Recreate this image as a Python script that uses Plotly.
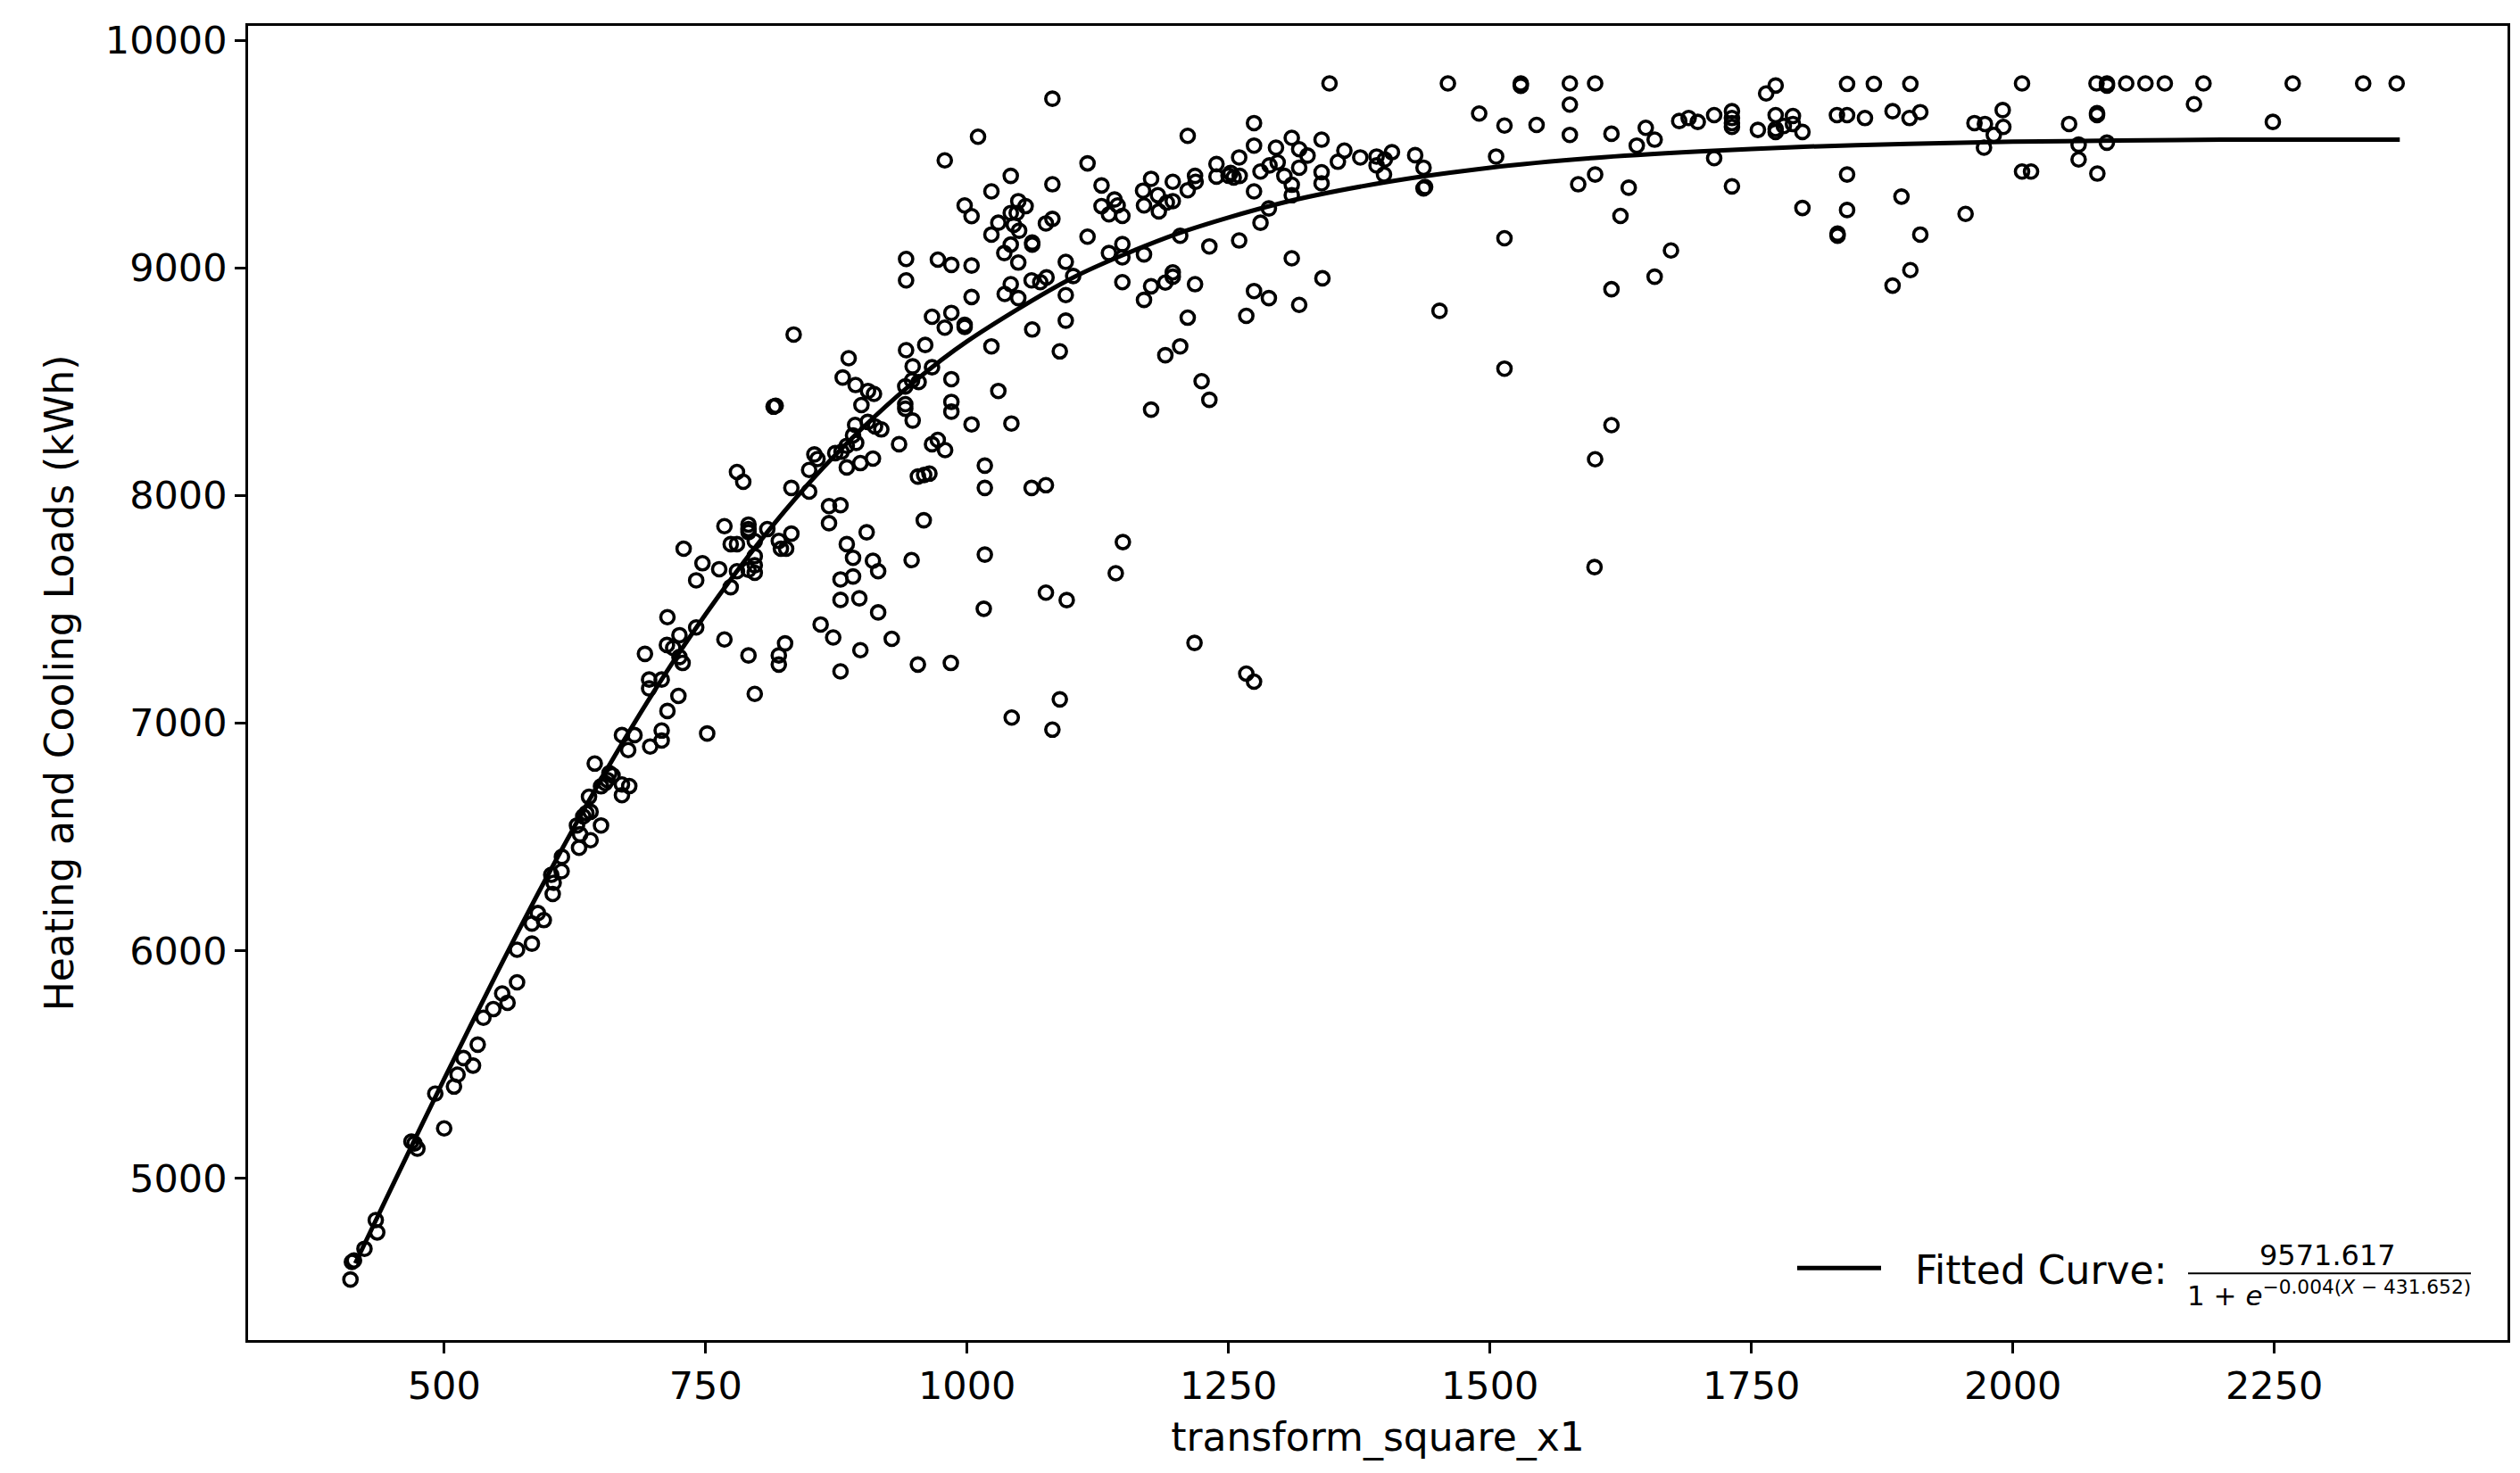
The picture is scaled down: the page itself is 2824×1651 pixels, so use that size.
import plotly.graph_objects as go

# ---------------- data ----------------
# lower-left segment
x_low = [410.4, 413.8, 411.8, 423.8, 436, 434.6, 468.7, 471.6, 474.4, 500, 491.5, 509.4, 512.8, 518.5,
         527.6, 532.1, 537.5, 547, 555.5, 560.6, 569.7, 569.7, 583.9, 583.9, 595.3, 589.6, 603.8, 604.7,
         612.3, 602.4]
y_low = [4555, 4639, 4632, 4690, 4762, 4816, 5161, 5153, 5130, 5219, 5372, 5403, 5455, 5528,
         5495, 5587, 5705, 5743, 5812, 5771, 5861, 6004, 6031, 6119, 6134, 6165, 6249, 6298,
         6349, 6333]

# middle-left segment
x_mid = [910, 898, 885, 857, 849, 780, 786, 832, 849, 953, 959, 964,
         868, 879, 868, 958.6, 768, 791, 791, 791, 809, 797, 774, 780, 729,
         820, 822, 832, 827, 797, 797, 797, 791, 747, 763, 780, 741, 774,
         885, 891, 904, 910, 915, 947, 879, 891, 879, 897, 915, 1016,
         713.5, 741, 725, 713, 719, 692, 725, 728, 768, 791, 826, 820, 820,
         860, 872, 898, 928, 879, 953, 984.5, 696, 696, 708, 724, 713.5, 797,
         708, 708, 697, 751.5, 670, 682, 676, 644, 658, 661, 654, 650, 656,
         670, 677, 670, 638.5, 633, 636, 640, 627, 630, 650, 640, 629, 612.6]
y_mid = [8162, 8142, 8123, 8160, 8112, 8103, 8060, 8033, 8017, 8083, 8090, 8096,
         7953, 7957, 7878, 7891, 7865, 7872, 7852, 7839, 7852, 7799, 7786, 7786, 7766,
         7800, 7766, 7832, 7766, 7733, 7693, 7660, 7673, 7702, 7676, 7667, 7627, 7597,
         7786, 7726, 7838, 7713, 7667, 7716, 7631, 7644, 7541, 7548, 7486, 7502,
         7465, 7420, 7386, 7343, 7330, 7304, 7290, 7264, 7367, 7297, 7350, 7297, 7257,
         7433, 7376, 7320, 7370, 7227, 7257, 7264, 7191, 7152, 7191, 7119, 7053, 7128,
         6967, 6923, 6897, 6954, 6947, 6947, 6881, 6822, 6780, 6770, 6736, 6722, 6750,
         6730, 6723, 6683, 6676, 6590, 6604, 6610, 6550, 6511, 6550, 6485, 6452, 6412]

# upper-middle segment
x_upmid = [1081.6, 1010.5, 978.7, 1041.8, 1115.2, 1081.6, 1128.6, 1023.3, 997.7, 1004.3,
           1049, 1056, 1047.5, 1041.8, 1141, 1128.6, 1135.7, 1148.5, 1144,
           1029.9, 1044.7, 1049.8, 1075.4, 1081.6, 1023.3, 1062.3, 1062.3, 1041.8, 1035.6, 1115.2,
           1148.5, 1135.7, 1148.5, 941.7, 941.7, 972.1, 985, 1004.3, 1049, 1094.4, 1101.5,
           1061.7, 1070, 1076, 1041.8, 1036, 1049, 1004.3, 1094.4, 1148.5,
           966.5, 985, 978.7, 997.7, 997.7, 1094.4, 1062.3, 1023.3, 1088.7, 834.2, 941.7, 960,
           886.8, 948, 966.5, 881.1, 893.4, 905.3, 911, 899, 940.9, 947.4, 953.7, 985, 1029.9,
           817, 815, 940.9, 940.9, 948, 985, 985, 1004.3, 1042.4,
           893, 905, 912, 918, 891, 894, 885, 935, 966.5, 972, 979, 854, 874, 880]
y_upmid = [9743, 9576, 9472, 9404, 9459, 9367, 9362, 9336, 9274, 9227,
           9293, 9271, 9241, 9241, 9300, 9271, 9235, 9228, 9274,
           9198, 9189, 9163, 9195, 9215, 9146, 9111, 9102, 9102, 9065, 9137,
           9104, 9065, 9046, 9039, 8945, 9036, 9013, 9010, 9023, 9026, 8964,
           8945, 8937, 8958, 8928, 8885, 8867, 8872, 8880, 8937,
           8785, 8802, 8737, 8750, 8740, 8768, 8729, 8655, 8633, 8707, 8638, 8661,
           8603, 8567, 8563, 8518, 8485, 8459, 8446, 8397, 8479, 8505, 8498, 8511, 8459,
           8394, 8390, 8401, 8381, 8329, 8411, 8368, 8312, 8316,
           8310, 8323, 8303, 8290, 8264, 8231, 8218, 8225, 8225, 8244, 8199, 8180, 8186, 8192]

# lower-middle outliers
x_lowmid = [1017, 1017, 1061.7, 1075.4, 1149, 1142.2, 1017, 1075.4, 1095.3, 1088.7, 1042.7, 1081.6,
            1176, 1217.5, 1267, 1274.4]
y_lowmid = [8131, 8033, 8033, 8045, 7795, 7658, 7740, 7573, 7540, 7104, 7024, 6971,
            8377, 7352, 7217, 7182]

# centre segment
x_centre = [1346.6, 1459.8, 1489.7, 1211, 1274.4, 1274.4, 1310.5, 1339, 1295.4, 1317.6, 1325.6, 1260.2,
            1238.5, 1238.5, 1252, 1255, 1260.7, 1250, 1280.6, 1289.2, 1297, 1317.6, 1303.4, 1310.5,
            1310.5, 1274.4, 1339, 1339, 1360.8, 1354.6, 1376, 1391.6, 1391.6, 1398.7, 1399.5, 1406.3,
            1428.5, 1436.5, 1436.5, 1438, 1176, 1168.3, 1169.2, 1182.5, 1183.4, 1191, 1196.7, 1196.7,
            1211, 1218, 1218.6, 1288.6, 1280.6, 1203.8, 1231.7, 1260.2, 1169.2, 1310.5,
            1196.7, 1196.7, 1189.6, 1176, 1169.2, 1218, 1274.4, 1288.6, 1317.6, 1339.8,
            1211, 1267, 1451.8, 1203.8, 1189.6, 1224.3, 1231.7]
y_centre = [9810, 9810, 9678, 9580, 9636, 9537, 9571, 9563, 9528, 9521, 9493, 9485,
            9456, 9401, 9417, 9397, 9404, 9405, 9423, 9450, 9463, 9440, 9404, 9365,
            9319, 9336, 9420, 9371, 9515, 9466, 9485, 9489, 9450, 9410, 9476, 9508,
            9495, 9440, 9349, 9355, 9391, 9339, 9274, 9319, 9248, 9287, 9293, 9378,
            9341, 9404, 9378, 9261, 9198, 9141, 9094, 9120, 9059, 9042,
            8980, 8961, 8935, 8919, 8859, 8928, 8898, 8867, 8837, 8954,
            8781, 8789, 8811, 8655, 8616, 8502, 8420]

# right segment
x_right = [1529.5, 1529.5, 1576.4, 1600.6, 1576.4, 1513.9, 1544.6, 1576.4, 1616.2, 1505.9, 1649,
           1657.5, 1640.4, 1681, 1690, 1698.7, 1714.4, 1731.4, 1731.4, 1731.4, 1731.4, 1714.4,
           1756.2, 1764.1, 1773.2, 1773.2, 1773.2, 1773.2, 1781, 1789.7, 1789.7, 1798.8,
           1841.5, 1867.1, 1902, 1831.8, 1841.5, 1858.6, 1885, 1901.2, 1911.5, 1841.5, 1893.5,
           1798.8, 1841.5, 1832.4, 1832.4, 1911.5, 1902, 1885, 1600.6, 1584.4, 1632.7, 1731.4,
           1624.8, 1513.9, 1673.1, 1657.5, 1616.2, 1513.9, 1616.2, 1600.6, 1600]
y_right = [9810, 9800, 9810, 9810, 9717, 9625, 9628, 9584, 9589, 9489, 9615,
           9563, 9537, 9645, 9658, 9641, 9671, 9688, 9658, 9636, 9619, 9482,
           9606, 9766, 9801, 9671, 9610, 9597, 9623, 9667, 9632, 9597,
           9808, 9808, 9808, 9671, 9671, 9658, 9688, 9658, 9684, 9410, 9313,
           9263, 9254, 9150, 9141, 9146, 8990, 8922, 9410, 9367, 9352, 9358,
           9228, 9130, 9076, 8961, 8906, 8557, 8309, 8159, 7685]

# far-right segment
x_far = [2008.8, 2080, 2090, 2090, 2108.4, 2126.8, 2145.3, 2182.3, 2267.6, 2335, 2367, 2173.2,
         2248.6, 1990.3, 1963.3, 1973.3, 1990.9, 1981.8, 1972.4, 2053.8, 2080.5, 2080.5, 2062.9,
         2062.9, 2089.9, 2008.8, 2017.4, 2080.8, 1954.8]
y_far = [9810, 9810, 9801, 9810, 9810, 9810, 9810, 9810, 9810, 9810, 9810, 9719,
         9641, 9693, 9636, 9632, 9619, 9584, 9528, 9632, 9680, 9671, 9541,
         9476, 9550, 9423, 9423, 9414, 9237]

# fitted curve
curve_x = [415, 450, 500, 550, 600, 650, 700, 750, 800, 850, 900, 950, 1000, 1100, 1200, 1300,
           1400, 1500, 1600, 1700, 1800, 1900, 2000, 2100, 2200, 2370]
curve_y = [4626, 4962, 5436, 5898, 6339, 6752, 7134, 7478, 7787, 8060, 8296, 8502, 8677, 8954, 9148, 9284,
           9376, 9440, 9483, 9511, 9532, 9545, 9554, 9559, 9563, 9563]

x_ticks = [500, 750, 1000, 1250, 1500, 1750, 2000, 2250]
y_ticks = [5000, 6000, 7000, 8000, 9000, 10000]

fit_label = "Fitted Curve:"
fit_num = "9571.617"
fit_den = "1 + <i>e</i><sup>−0.004(<i>X</i> − 431.652)</sup>"

# ---------------- figure ----------------
xs = x_low + x_mid + x_upmid + x_lowmid + x_centre + x_right + x_far
ys = y_low + y_mid + y_upmid + y_lowmid + y_centre + y_right + y_far

FONT = "DejaVu Sans"
W, H = 2824, 1651
L, R, T, B = 270, 22, 17, 157
pw, ph = W - L - R, H - T - B


def px(xp):
    return (xp - L) / pw


def py(yp):
    return (H - B - yp) / ph


fig = go.Figure()
fig.add_trace(go.Scatter(
    x=xs, y=ys, mode="markers",
    marker=dict(symbol="circle", size=15, color="rgba(0,0,0,0)",
                line=dict(width=3.6, color="black")),
    showlegend=False, hoverinfo="skip"))
fig.add_trace(go.Scatter(
    x=curve_x, y=curve_y, mode="lines",
    line=dict(color="black", width=5, shape="spline", smoothing=0.8),
    showlegend=False, hoverinfo="skip"))

axis_common = dict(
    showline=True, linecolor="black", linewidth=2.6, mirror=True,
    ticks="outside", ticklen=12, tickwidth=2.5, tickcolor="black",
    showgrid=False, zeroline=False,
    tickfont=dict(family=FONT, size=43, color="black"),
)

fig.update_xaxes(range=[312.5, 2473], tickvals=x_ticks, ticktext=[str(v) for v in x_ticks],
                 title=dict(text="transform_square_x1", font=dict(family=FONT, size=44, color="black"),
                            standoff=18),
                 **axis_common)
fig.update_yaxes(range=[4289, 10063], tickvals=y_ticks, ticktext=[str(v) for v in y_ticks],
                 title=dict(text="Heating and Cooling Loads (kWh)", font=dict(family=FONT, size=44, color="black"),
                            standoff=22),
                 **axis_common)

# manual legend
fig.add_shape(type="line", xref="paper", yref="paper",
              x0=px(2006), x1=px(2100), y0=py(1413), y1=py(1413),
              line=dict(color="black", width=5))
fig.add_annotation(xref="paper", yref="paper", x=px(2136), y=py(1415), text=fit_label,
                   showarrow=False, xanchor="left", yanchor="middle",
                   font=dict(family=FONT, size=44, color="black"))
fig.add_annotation(xref="paper", yref="paper", x=px(2600), y=py(1399), text=fit_num,
                   showarrow=False, xanchor="center", yanchor="middle",
                   font=dict(family=FONT, size=32, color="black"))
fig.add_shape(type="line", xref="paper", yref="paper",
              x0=px(2444), x1=px(2761), y0=py(1419), y1=py(1419),
              line=dict(color="black", width=2))
fig.add_annotation(xref="paper", yref="paper", x=px(2602), y=py(1442), text=fit_den,
                   showarrow=False, xanchor="center", yanchor="middle",
                   font=dict(family=FONT, size=31, color="black"))

fig.update_layout(
    width=W, height=H,
    margin=dict(l=L, r=R, t=T, b=B),
    paper_bgcolor="white", plot_bgcolor="white",
    font=dict(family=FONT, color="black"),
    showlegend=False,
)

fig.write_html("out.html")
